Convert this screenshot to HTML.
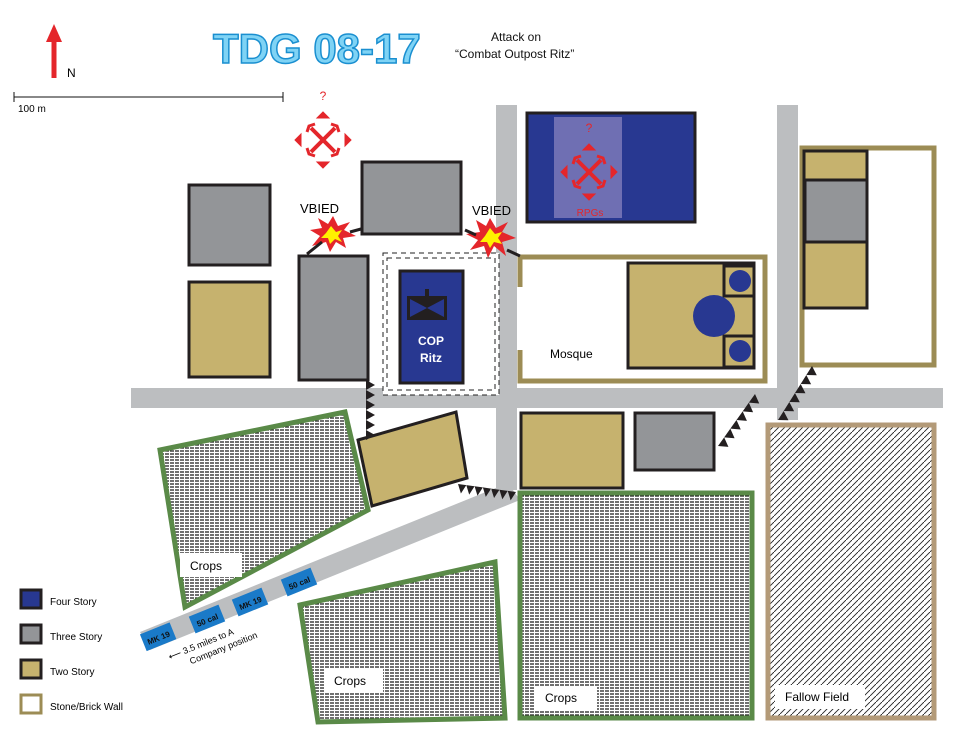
<!DOCTYPE html>
<html><head><meta charset="utf-8"><style>
html,body{margin:0;padding:0;background:#fff;}
svg{display:block;font-family:"Liberation Sans",sans-serif;}
</style></head><body>
<svg id="s" width="953" height="732" viewBox="0 0 953 732" xmlns="http://www.w3.org/2000/svg">
<defs>
<pattern id="crop" width="5" height="3" patternUnits="userSpaceOnUse"><rect width="5" height="3" fill="#fff"/><line x1="0" y1="1" x2="4" y2="1" stroke="#222" stroke-width="1.3"/></pattern>
<pattern id="fallow" width="6" height="6" patternUnits="userSpaceOnUse"><rect width="6" height="6" fill="#fff"/><line x1="0" y1="6" x2="6" y2="0" stroke="#222" stroke-width="0.9"/></pattern>
</defs>
<text x="213" y="63" font-size="42" font-weight="bold" fill="#7fd3f5" stroke="#1a8fd0" stroke-width="1.5">TDG 08-17</text>
<text x="491" y="41" font-size="12" fill="#111">Attack on</text>
<text x="455" y="58" font-size="12" fill="#111">“Combat Outpost Ritz”</text>
<line x1="54" y1="78" x2="54" y2="38" stroke="#e4262b" stroke-width="5"/>
<polygon points="46,42 54,24 62,42" fill="#e4262b"/>
<text x="67" y="77" font-size="12">N</text>
<line x1="14" y1="97" x2="283" y2="97" stroke="#111" stroke-width="1"/>
<line x1="14" y1="92" x2="14" y2="102" stroke="#111"/><line x1="283" y1="92" x2="283" y2="102" stroke="#111"/>
<text x="18" y="112" font-size="10">100 m</text>
<g fill="#bcbec0">
<rect x="131" y="388" width="812" height="20"/>
<rect x="496" y="105" width="21" height="385"/>
<rect x="777" y="105" width="21" height="315"/>
<polygon points="508,483 520,500 150,650 140,632"/>
</g>
<polygon points="160,450 345,412 368,510 185,607" fill="url(#crop)" stroke="#5a8a48" stroke-width="5"/>
<polygon points="300,605 495,562 505,718 318,722" fill="url(#crop)" stroke="#5a8a48" stroke-width="5"/>
<rect x="520" y="493" width="232" height="225" fill="url(#crop)" stroke="#5a8a48" stroke-width="5"/>
<rect x="768" y="425" width="166" height="293" fill="url(#fallow)" stroke="#b39a78" stroke-width="5"/>
<rect x="180" y="553" width="62" height="24" fill="#fff"/><text x="190" y="570" font-size="12">Crops</text>
<rect x="325" y="668" width="58" height="24" fill="#fff"/><text x="334" y="685" font-size="12">Crops</text>
<rect x="535" y="686" width="62" height="24" fill="#fff"/><text x="545" y="702" font-size="12">Crops</text>
<rect x="775" y="685" width="90" height="24" fill="#fff"/><text x="785" y="701" font-size="12">Fallow Field</text>
<g transform="translate(160,636) rotate(-22)"><rect x="-18" y="-9" width="32" height="18" fill="#1a7ac8"/><text x="-2" y="4" font-size="8" font-weight="bold" text-anchor="middle" fill="#111">MK 19</text></g>
<g transform="translate(207,619) rotate(-22)"><rect x="-16" y="-9" width="32" height="18" fill="#1a7ac8"/><text x="0" y="4" font-size="8" font-weight="bold" text-anchor="middle" fill="#111">50 cal</text></g>
<g transform="translate(250,602) rotate(-22)"><rect x="-16" y="-9" width="32" height="18" fill="#1a7ac8"/><text x="0" y="4" font-size="8" font-weight="bold" text-anchor="middle" fill="#111">MK 19</text></g>
<g transform="translate(299,582) rotate(-22)"><rect x="-16" y="-9" width="32" height="18" fill="#1a7ac8"/><text x="0" y="4" font-size="8" font-weight="bold" text-anchor="middle" fill="#111">50 cal</text></g>
<g transform="translate(170,660) rotate(-22)" font-size="9"><text x="0" y="0">⟵ 3.5 miles to A</text><text x="18" y="12">Company position</text></g>
<g stroke="#231f20" stroke-width="3">
<rect x="189" y="185" width="81" height="80" fill="#939598"/>
<rect x="189" y="282" width="81" height="95" fill="#c6b26e"/>
<rect x="362" y="162" width="99" height="72" fill="#939598"/>
<rect x="299" y="256" width="69" height="124" fill="#939598"/>
<polygon points="358,440 456,412 467,478 372,506" fill="#c6b26e"/>
<rect x="521" y="413" width="102" height="75" fill="#c6b26e"/>
<rect x="635" y="413" width="79" height="57" fill="#939598"/>
<rect x="527" y="113" width="168" height="109" fill="#283891"/>
</g>
<rect x="554" y="117" width="68" height="101" fill="#6f6fb3"/>
<rect x="383" y="253" width="116" height="142" fill="#fff" stroke="#222" stroke-width="1" stroke-dasharray="5,4"/>
<rect x="387" y="258" width="108" height="132" fill="none" stroke="#222" stroke-width="1" stroke-dasharray="5,4"/>
<rect x="400" y="271" width="63" height="112" fill="#283891" stroke="#231f20" stroke-width="3"/>
<rect x="407" y="296" width="40" height="24" fill="#231f20"/>
<rect x="425" y="289" width="4" height="7" fill="#231f20"/>
<polygon points="410,299 427,308 410,317" fill="#283891"/><polygon points="444,299 427,308 444,317" fill="#283891"/>
<text x="431" y="345" font-size="12" font-weight="bold" fill="#fff" text-anchor="middle">COP</text>
<text x="431" y="362" font-size="12" font-weight="bold" fill="#fff" text-anchor="middle">Ritz</text>
<path d="M520,287 V257 H765 V381 H520 V350" fill="none" stroke="#9c8c55" stroke-width="5"/>
<rect x="628" y="263" width="126" height="105" fill="#c6b26e" stroke="#231f20" stroke-width="3"/>
<rect x="724" y="266" width="30" height="30" fill="#c6b26e" stroke="#231f20" stroke-width="3"/>
<rect x="724" y="336" width="30" height="31" fill="#c6b26e" stroke="#231f20" stroke-width="3"/>
<circle cx="740" cy="281" r="11" fill="#283891"/><circle cx="714" cy="316" r="21" fill="#283891"/><circle cx="740" cy="351" r="11" fill="#283891"/>
<text x="550" y="358" font-size="12">Mosque</text>
<rect x="802" y="148" width="132" height="217" fill="#fff" stroke="#9c8c55" stroke-width="5"/>
<rect x="804" y="151" width="63" height="157" fill="#c6b26e" stroke="#231f20" stroke-width="3"/>
<rect x="805" y="180" width="62" height="62" fill="#939598" stroke="#231f20" stroke-width="3"/>
<g transform="translate(323,140)" stroke="#e4262b" fill="#e4262b">
<line x1="-12" y1="-12" x2="12" y2="12" stroke-width="4"/><line x1="12" y1="-12" x2="-12" y2="12" stroke-width="4"/>
<polyline points="-16,-8 -14,-14 -8,-16" fill="none" stroke-width="3"/><polyline points="16,-8 14,-14 8,-16" fill="none" stroke-width="3"/>
<polyline points="-16,8 -14,14 -8,16" fill="none" stroke-width="3"/><polyline points="16,8 14,14 8,16" fill="none" stroke-width="3"/>
<polygon points="-6,-22 0,-28 6,-22" /><polygon points="-6,22 0,28 6,22"/><polygon points="-22,-6 -28,0 -22,6"/><polygon points="22,-6 28,0 22,6"/>
<text x="0" y="-40" font-size="12" stroke="none" text-anchor="middle">?</text>
</g>
<g transform="translate(589,172)" stroke="#e4262b" fill="#e4262b">
<line x1="-12" y1="-12" x2="12" y2="12" stroke-width="4"/><line x1="12" y1="-12" x2="-12" y2="12" stroke-width="4"/>
<polyline points="-16,-8 -14,-14 -8,-16" fill="none" stroke-width="3"/><polyline points="16,-8 14,-14 8,-16" fill="none" stroke-width="3"/>
<polyline points="-16,8 -14,14 -8,16" fill="none" stroke-width="3"/><polyline points="16,8 14,14 8,16" fill="none" stroke-width="3"/>
<polygon points="-6,-22 0,-28 6,-22" /><polygon points="-6,22 0,28 6,22"/><polygon points="-22,-6 -28,0 -22,6"/><polygon points="22,-6 28,0 22,6"/>
<text x="0" y="-40" font-size="12" stroke="none" text-anchor="middle">?</text>
<text x="1" y="44" font-size="10" stroke="none" text-anchor="middle">RPGs</text>
</g>
<text x="300" y="213" font-size="13">VBIED</text>
<text x="472" y="215" font-size="13">VBIED</text>
<polygon points="333,216 338,226 350,222 344,230 356,236 343,238 346,248 336,242 330,252 326,242 312,246 320,236 310,230 322,228 318,218 328,224" fill="#e4262b"/>
<polygon points="331,226 336,232 342,230 338,236 342,242 335,239 330,244 328,238 321,238 326,233" fill="#fff200"/>
<polygon points="490,218 496,228 508,222 502,232 516,238 502,242 506,256 494,246 488,258 484,246 470,250 478,240 466,234 480,232 476,220 486,226" fill="#e4262b"/>
<polygon points="490,228 495,234 502,232 498,238 502,244 494,242 490,248 487,242 480,242 485,236" fill="#fff200"/>
<g id="saw" fill="#231f20"></g>
<line x1="307" y1="254" x2="322" y2="242" stroke="#231f20" stroke-width="3"/>
<line x1="350" y1="232" x2="361" y2="229" stroke="#231f20" stroke-width="3"/>
<line x1="465" y1="230" x2="476" y2="235" stroke="#231f20" stroke-width="3"/>
<line x1="507" y1="250" x2="520" y2="256" stroke="#231f20" stroke-width="3"/>
<g stroke-width="3">
<rect x="21" y="590" width="20" height="18" fill="#283891" stroke="#231f20"/>
<rect x="21" y="625" width="20" height="18" fill="#939598" stroke="#231f20"/>
<rect x="21" y="660" width="20" height="18" fill="#c6b26e" stroke="#231f20"/>
<rect x="21" y="695" width="20" height="18" fill="#fff" stroke="#9c8c55"/>
</g>
<g font-size="10"><text x="50" y="605">Four Story</text><text x="50" y="640">Three Story</text><text x="50" y="675">Two Story</text><text x="50" y="710">Stone/Brick Wall</text></g>
</svg>
<script>
function saw(ax,ay,bx,by,n,h){var dx=(bx-ax)/n,dy=(by-ay)/n,L=Math.hypot(dx,dy),nx=-dy/L*h,ny=dx/L*h,p='';
for(var i=0;i<n;i++){var x=ax+dx*i,y=ay+dy*i;p+='M'+x+','+y+'L'+(x+dx)+','+(y+dy)+'L'+(x+dx/2+nx)+','+(y+dy/2+ny)+'Z';}
var e=document.createElementNS('http://www.w3.org/2000/svg','path');e.setAttribute('d',p);document.getElementById('saw').appendChild(e);}
saw(366,440,366,380,6,9);
saw(458,484,516,492,7,9);
saw(718,446,755,394,6,9);
saw(778,420,812,366,6,9);
</script>
</body></html>
